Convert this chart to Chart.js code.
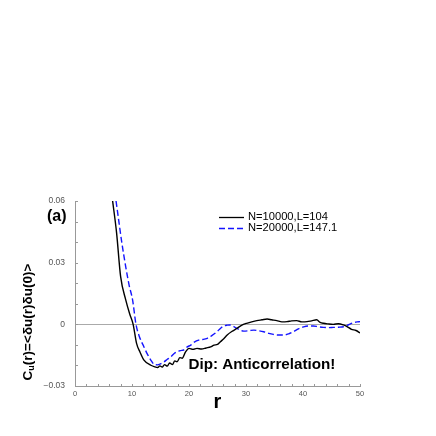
<!DOCTYPE html>
<html>
<head>
<meta charset="utf-8">
<script src="https://cdn.jsdelivr.net/npm/chart.js@4.4.1/dist/chart.umd.min.js"></script>
<style>
  html, body { margin: 0; padding: 0; background: #fff; }
  #wrap { width: 436px; height: 436px; }
</style>
</head>
<body>
<div id="wrap"><canvas id="corr" width="436" height="436"></canvas></div>
<script>
// data: r values and C_u(r) values for each run
const blackR = [6.6, 7.3, 8.0, 8.9, 9.6, 10.2, 10.8, 11.4, 12.1, 13.3, 14.0, 14.5, 14.9, 15.3, 15.7, 16.2, 16.6, 17.1, 17.5, 17.9,
  18.4, 18.8, 19.4, 20.0, 20.7, 21.4, 22.2, 23.0, 23.8, 24.4, 25.0, 25.5, 26.1, 26.7, 27.5, 28.4, 29.2, 30.1, 31.0, 31.9,
  32.8, 33.7, 34.5, 35.4, 36.3, 37.2, 38.0, 38.9, 39.8, 40.7, 41.5, 42.4, 43.0, 43.6, 44.4, 45.3, 46.2, 47.1, 47.8, 48.5, 49.3, 50.0];
const blackC = [0.060, 0.0444, 0.0233, 0.0119, 0.005, 0.000, -0.0093, -0.0135, -0.0174, -0.0199, -0.0207, -0.021, -0.0202, -0.0208, -0.0196, -0.0203, -0.0188, -0.0196, -0.0178, -0.0182,
  -0.0162, -0.0165, -0.0134, -0.0117, -0.0122, -0.0117, -0.0120, -0.0115, -0.0110, -0.0101, -0.0098, -0.0085, -0.0070, -0.0052, -0.0035, -0.0020, -0.0005, 0.0005, 0.0012, 0.0018,
  0.0022, 0.0026, 0.0022, 0.0018, 0.0012, 0.0013, 0.0017, 0.0018, 0.0012, 0.0013, 0.0017, 0.0022, 0.0010, 0.0005, 0.0002, 0.0000, 0.0003, -0.0003, -0.0012, -0.0024, -0.0030, -0.0042];

const blueR = [7.2, 7.5, 8.2, 8.9, 9.5, 10.1, 10.7, 11.3, 12.1, 12.7, 13.3, 13.9, 14.5, 15.0, 15.6, 16.2, 16.8, 17.4, 17.9, 18.5,
  19.1, 19.7, 20.3, 21.0, 21.7, 22.4, 23.2, 24.0, 24.9, 25.5, 26.1, 26.7, 27.2, 27.8, 28.4, 29.0, 29.6, 30.5, 31.4, 32.2,
  33.1, 34.0, 34.8, 35.7, 36.6, 37.5, 38.3, 39.2, 40.1, 41.0, 41.8, 42.7, 43.6, 44.5, 45.3, 46.2, 47.1, 48.0, 48.8, 49.5, 50.0];
const blueC = [0.060, 0.054, 0.040, 0.028, 0.019, 0.0119, 0.000, -0.0060, -0.011, -0.0145, -0.0174, -0.0195, -0.0197, -0.0192, -0.0183, -0.0170, -0.0158, -0.0142, -0.0134, -0.0128,
  -0.0124, -0.0110, -0.0101, -0.0085, -0.0077, -0.0074, -0.0068, -0.0055, -0.0036, -0.0020, -0.0008, -0.0004, -0.0003, -0.0010, -0.0020, -0.0028, -0.0033, -0.0031, -0.0028, -0.0031,
  -0.0036, -0.0044, -0.0049, -0.0052, -0.0052, -0.0046, -0.0036, -0.0022, -0.0012, -0.0008, -0.0008, -0.0012, -0.0015, -0.0016, -0.0015, -0.0014, -0.0012, -0.0002, 0.0008, 0.0012, 0.0013];

const seriesLabels = ['N=10000,L=104', 'N=20000,L=147.1'];
const xTickLabels = [0, 10, 20, 30, 40, 50];
const yTickLabels = [-0.03, 0, 0.03, 0.06];

const FONT = '"Liberation Sans", Arial, sans-serif';
const toPoints = (xs, ys) => xs.map((x, i) => ({ x: x, y: ys[i] }));
const isMajorY = v => yTickLabels.some(t => Math.abs(t - v) < 1e-9);

// pick a font size so the text comes out at the width seen in the picture
function fitFont(ctx, text, weight, width) {
  ctx.font = weight + ' 20px ' + FONT;
  const size = 20 * width / ctx.measureText(text).width;
  return weight + ' ' + size.toFixed(2) + 'px ' + FONT;
}

// small inward ticks on both axes
const innerTicks = {
  id: 'innerTicks',
  afterDraw(chart) {
    const { ctx, chartArea: a, scales: { x, y } } = chart;
    ctx.save();
    ctx.strokeStyle = '#999';
    ctx.lineWidth = 1;
    ctx.beginPath();
    for (let r = 0; r <= 50; r += 2) {
      const px = Math.round(x.getPixelForValue(r)) + 0.5;
      ctx.moveTo(px, a.bottom);
      ctx.lineTo(px, a.bottom - 2);
    }
    for (let i = -3; i <= 6; i++) {
      const py = Math.round(y.getPixelForValue(i / 100)) + 0.5;
      ctx.moveTo(a.left, py);
      ctx.lineTo(a.left + 3, py);
    }
    ctx.stroke();
    ctx.restore();
  }
};

// legend, panel letter, note and the y title with its subscript
const labelsPlugin = {
  id: 'labelsPlugin',
  afterDraw(chart) {
    const { ctx, scales: { x, y } } = chart;
    ctx.save();
    ctx.textAlign = 'left';
    ctx.textBaseline = 'middle';

    // legend
    const legendFont = fitFont(ctx, seriesLabels[0], 'normal', 80);
    chart.data.datasets.forEach((ds, i) => {
      const ly = 217 + i * 11;
      ctx.strokeStyle = ds.borderColor;
      ctx.lineWidth = 1.3;
      ctx.setLineDash(ds.borderDash || []);
      ctx.beginPath();
      ctx.moveTo(219, ly + 0.5);
      ctx.lineTo(244, ly + 0.5);
      ctx.stroke();
      ctx.setLineDash([]);
      ctx.fillStyle = '#000';
      ctx.font = legendFont;
      ctx.fillText(ds.label, 248, ly);
    });

    // (a)
    ctx.font = 'bold 16px ' + FONT;
    ctx.fillText('(a)', 47, 217);

    // note near the dip
    const note = 'Dip: Anticorrelation!';
    ctx.font = fitFont(ctx, note, 'bold', 147);
    ctx.fillText(note, x.getPixelForValue(19.9), y.getPixelForValue(-0.0199));

    // y title, rotated, with subscript u
    ctx.translate(28, 322);
    ctx.rotate(-Math.PI / 2);
    const big = 'bold 13.5px ' + FONT;
    const small = 'bold 9px ' + FONT;
    const parts = [['C', big, 0], ['u', small, 4], ['(r)=<δu(r)δu(0)>', big, 0]];
    let total = 0;
    parts.forEach(p => { ctx.font = p[1]; total += ctx.measureText(p[0]).width; });
    let tx = -total / 2;
    parts.forEach(p => {
      ctx.font = p[1];
      ctx.fillText(p[0], tx, p[2]);
      tx += ctx.measureText(p[0]).width;
    });
    ctx.restore();
  }
};

new Chart(document.getElementById('corr'), {
  type: 'line',
  data: {
    datasets: [{
      label: seriesLabels[0],
      data: toPoints(blackR, blackC),
      borderColor: '#000000',
      borderWidth: 1.4,
      pointRadius: 0,
      cubicInterpolationMode: 'monotone'
    }, {
      label: seriesLabels[1],
      data: toPoints(blueR, blueC),
      borderColor: '#1414ff',
      borderWidth: 1.4,
      borderDash: [6, 3],
      pointRadius: 0,
      cubicInterpolationMode: 'monotone'
    }]
  },
  options: {
    responsive: false,
    animation: false,
    parsing: false,
    layout: { padding: { top: 201, right: 76, left: 0, bottom: 0 } },
    plugins: { legend: { display: false }, tooltip: { enabled: false } },
    scales: {
      x: {
        type: 'linear',
        min: 0, max: 50,
        afterFit: s => { s.height = 50; },
        border: { display: true, color: '#999', width: 1 },
        grid: { display: false, drawTicks: false },
        ticks: {
          stepSize: 10,
          padding: 3,
          color: '#555',
          font: { size: 7.5, family: FONT },
          maxRotation: 0,
          callback: v => xTickLabels.includes(v) ? String(v) : ''
        },
        title: {
          display: true,
          text: 'r',
          color: '#000',
          padding: { top: 0, bottom: 22 },
          font: { size: 20, weight: 'bold', family: FONT }
        }
      },
      y: {
        min: -0.03, max: 0.06,
        afterFit: s => { s.width = 75; },
        border: { display: true, color: '#999', width: 1 },
        grid: {
          drawTicks: false,
          color: c => (c.tick && Math.abs(c.tick.value) < 1e-9) ? '#aaaaaa' : 'rgba(0,0,0,0)'
        },
        ticks: {
          stepSize: 0.01,
          padding: 10,
          color: '#555',
          font: { size: 8.5, family: FONT },
          callback: v => {
            if (!isMajorY(v)) return '';
            const r = Math.round(v * 100) / 100;
            if (r === 0) return '0';
            return r < 0 ? '\u2212' + Math.abs(r).toFixed(2) : r.toFixed(2);
          }
        }
      }
    }
  },
  plugins: [innerTicks, labelsPlugin]
});
</script>
</body>
</html>
